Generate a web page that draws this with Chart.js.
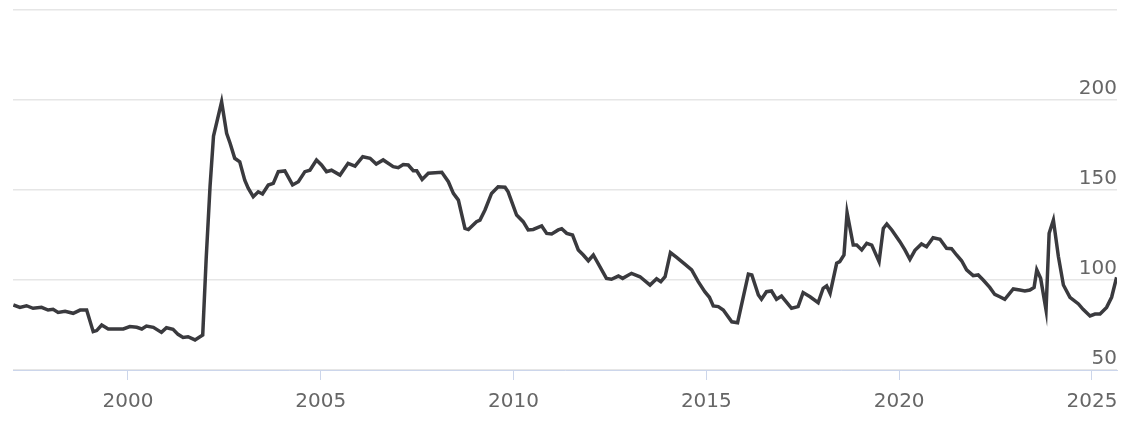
<!DOCTYPE html>
<html>
<head>
<meta charset="utf-8">
<script src="https://cdn.jsdelivr.net/npm/chart.js@4/dist/chart.umd.min.js"></script>
<style>
  html, body { margin: 0; padding: 0; background: #fff; }
  #wrap { width: 1128px; height: 426px; position: relative; }
</style>
</head>
<body>
<div id="wrap"><canvas id="chart"></canvas></div>
<script>
// -----------------------------
// DATA
// -----------------------------
const years = [
  1997.03, 1997.20, 1997.37, 1997.54, 1997.76, 1997.93, 1998.06, 1998.19, 1998.37, 1998.58,
  1998.76, 1998.93, 1999.10, 1999.19, 1999.32, 1999.49, 1999.88, 2000.05, 2000.23, 2000.36,
  2000.48, 2000.66, 2000.87, 2001.00, 2001.17, 2001.30, 2001.43, 2001.56, 2001.74, 2001.94,
  2002.03, 2002.13, 2002.22, 2002.43, 2002.56, 2002.65, 2002.77, 2002.90, 2003.03, 2003.12,
  2003.25, 2003.38, 2003.49, 2003.64, 2003.77, 2003.90, 2004.07, 2004.27, 2004.42, 2004.59,
  2004.72, 2004.89, 2005.02, 2005.15, 2005.28, 2005.50, 2005.71, 2005.89, 2006.09, 2006.28,
  2006.44, 2006.62, 2006.88, 2007.01, 2007.14, 2007.27, 2007.40, 2007.49, 2007.63, 2007.79,
  2008.14, 2008.31, 2008.44, 2008.57, 2008.74, 2008.83, 2009.04, 2009.13, 2009.26, 2009.43,
  2009.60, 2009.78, 2009.86, 2010.08, 2010.25, 2010.38, 2010.51, 2010.73, 2010.86, 2010.99,
  2011.16, 2011.25, 2011.38, 2011.53, 2011.68, 2011.81, 2011.94, 2012.07, 2012.41, 2012.54,
  2012.72, 2012.83, 2013.06, 2013.28, 2013.54, 2013.71, 2013.82, 2013.93, 2014.07, 2014.23,
  2014.45, 2014.62, 2014.79, 2014.96, 2015.08, 2015.18, 2015.31, 2015.44, 2015.66, 2015.81,
  2016.09, 2016.18, 2016.35, 2016.43, 2016.56, 2016.69, 2016.82, 2016.95, 2017.21, 2017.38,
  2017.51, 2017.69, 2017.90, 2018.03, 2018.12, 2018.21, 2018.38, 2018.46, 2018.57, 2018.65,
  2018.81, 2018.90, 2019.03, 2019.16, 2019.29, 2019.48, 2019.59, 2019.68, 2019.81, 2020.02,
  2020.15, 2020.28, 2020.41, 2020.58, 2020.71, 2020.88, 2021.06, 2021.23, 2021.36, 2021.49,
  2021.62, 2021.75, 2021.92, 2022.05, 2022.18, 2022.35, 2022.48, 2022.61, 2022.74, 2022.96,
  2023.13, 2023.26, 2023.39, 2023.50, 2023.57, 2023.67, 2023.81, 2023.89, 2024.00, 2024.13,
  2024.26, 2024.43, 2024.65, 2024.77, 2024.95, 2025.08, 2025.21, 2025.38, 2025.51, 2025.64
];

const values = [
  86.1, 84.8, 85.7, 84.3, 84.8, 83.3, 83.7, 82.0, 82.6, 81.5,
  83.3, 83.3, 71.3, 71.9, 75.0, 72.8, 72.8, 74.1, 73.7, 72.8,
  74.4, 73.7, 70.9, 73.5, 72.6, 69.8, 68.1, 68.5, 66.7, 69.4,
  112, 152, 180, 199, 181.5, 176, 167.6, 165.7, 155.5, 151,
  146.3, 149, 147.8, 152.8, 153.7, 160.2, 160.6, 152.8, 154.6, 160.2,
  161, 166.7, 163.9, 160.2, 161, 158.3, 164.8, 163.3, 168.5, 167.6,
  164.4, 166.7, 163, 162.4, 164.2, 163.9, 160.7, 160.7, 155.9, 159.3,
  159.8, 154.6, 148.1, 144.4, 128.7, 128.1, 132.4, 133.3, 138.9, 148.1,
  151.8, 151.5, 149, 136.1, 132.4, 127.8, 128.1, 130, 125.9, 125.6,
  127.8, 128.5, 125.9, 125, 116.7, 113.9, 110.7, 113.9, 100.9, 100.4,
  102.2, 100.9, 103.7, 101.8, 97.2, 100.7, 99.1, 101.8, 115.2, 112.6,
  108.7, 105.6, 99.1, 93.5, 90.4, 85.6, 85.2, 83.3, 76.8, 76.3,
  103.3, 102.8, 91.7, 89.3, 93.5, 93.9, 89.3, 91.1, 84.3, 85.2,
  93, 90.7, 87.4, 95.4, 96.7, 92.6, 109.3, 110.2, 113.9, 137.4,
  119.4, 119.4, 116.7, 120.4, 119.4, 110.2, 128.7, 131.1, 127.8, 121.3,
  116.7, 111.5, 116.5, 120, 118.5, 123.5, 122.6, 117.6, 117.4, 113.9,
  110.7, 105.6, 102.4, 102.8, 100, 95.9, 92, 90.7, 89.3, 95,
  94.4, 93.9, 94.4, 95.9, 105.6, 100.9, 83.3, 126, 133.3, 113,
  97.2, 90.4, 86.7, 83.7, 80, 81.1, 81.1, 84.8, 90.4, 101.5
];

const xTicks = [2000, 2005, 2010, 2015, 2020, 2025];
const yTicks = [50, 100, 150, 200, 250];
const yLabels = ["50", "100", "150", "200", ""];

// -----------------------------
// CHART
// -----------------------------
const points = years.map((y, i) => ({ x: y, y: values[i] }));

new Chart(document.getElementById("chart").getContext("2d"), {
  type: "line",
  data: {
    datasets: [{
      data: points,
      borderColor: "#3a3a3e",
      borderWidth: 3.5,
      pointRadius: 0,
      tension: 0,
      fill: false
    }]
  },
  options: {
    responsive: true,
    maintainAspectRatio: false,
    animation: false,
    layout: { padding: { left: 13, top: 10, right: 0, bottom: 0 } },
    plugins: { legend: { display: false }, tooltip: { enabled: false } },
    scales: {
      x: {
        type: "linear",
        min: 1997.02,
        max: 2025.65,
        afterBuildTicks: (scale) => { scale.ticks = xTicks.map(v => ({ value: v })); },
        afterFit: (scale) => { scale.height = 56; scale.paddingLeft = 0; scale.paddingRight = 0; },
        grid: { drawOnChartArea: false, drawTicks: true, tickLength: 10, color: "#ccd6eb" },
        border: { display: true, color: "#ccd6eb", width: 1 },
        ticks: {
          padding: 10,
          color: "#666666",
          font: { family: "DejaVu Sans", size: 20 },
          maxRotation: 0,
          callback: (v) => String(v)
        }
      },
      y: {
        position: "right",
        min: 50,
        max: 250,
        afterBuildTicks: (scale) => { scale.ticks = yTicks.map(v => ({ value: v })); },
        afterFit: (scale) => { scale.width = 11; scale.paddingTop = 0; scale.paddingBottom = 0; },
        grid: { color: "#e6e6e6", drawTicks: false, lineWidth: 1.5 },
        border: { display: false },
        ticks: {
          mirror: true,
          padding: 0,
          labelOffset: -11,
          color: "#666666",
          font: { family: "DejaVu Sans", size: 20 },
          callback: (v) => yLabels[yTicks.indexOf(v)]
        }
      }
    }
  }
});
</script>
</body>
</html>
